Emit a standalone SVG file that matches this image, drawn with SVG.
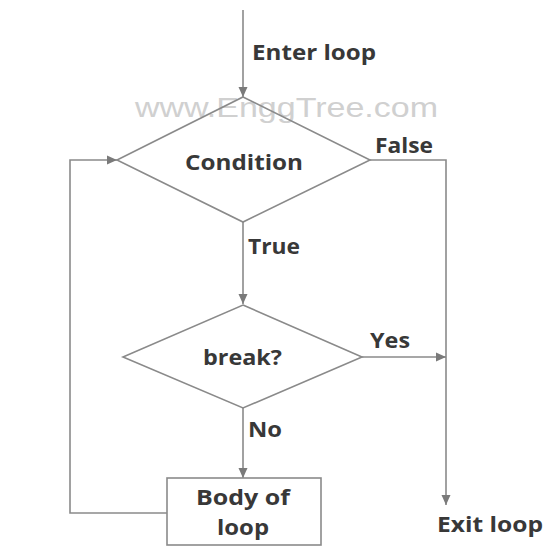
<svg xmlns="http://www.w3.org/2000/svg" width="548" height="554" viewBox="0 0 548 554">
<style>
.ln{fill:none;stroke:#8a8a8a;stroke-width:1.6}
.sh{fill:none;stroke:#8a8a8a;stroke-width:1.6}
.t{font-family:"Open Sans","Liberation Sans",sans-serif;font-weight:700;font-size:21px;fill:#383838}
.wm{font-family:"Liberation Sans",Arial,sans-serif;font-size:28px;fill:#d0d0d0}
</style>
<defs>
<marker id="ah" viewBox="0 0 10 10" refX="10" refY="5" markerWidth="10" markerHeight="10" markerUnits="userSpaceOnUse" orient="auto">
<path d="M0,0.5 L10,5 L0,9.5 Z" fill="#7a7a7a"/>
</marker>
</defs>
<rect width="548" height="554" fill="#fff"/>
<text class="wm" x="135" y="117" textLength="303" lengthAdjust="spacingAndGlyphs">www.EnggTree.com</text>
<g id="connectors">
<line class="ln" x1="243" y1="10" x2="243" y2="97" marker-end="url(#ah)"/>
<line class="ln" x1="243" y1="222" x2="243" y2="304" marker-end="url(#ah)"/>
<polyline class="ln" points="370,160 446,160 446,505" marker-end="url(#ah)"/>
<line class="ln" x1="362" y1="357" x2="446" y2="357" marker-end="url(#ah)"/>
<line class="ln" x1="243" y1="408" x2="243" y2="478" marker-end="url(#ah)"/>
<polyline class="ln" points="167,513 70,513 70,160 117,160" marker-end="url(#ah)"/>
</g>
<g id="enter-label"><text class="t" x="252" y="60" textLength="124" lengthAdjust="spacingAndGlyphs">Enter loop</text></g>
<g id="condition">
<polygon class="sh" points="243,97 370,160 243,222 117,160"/>
<text class="t" x="185" y="170" textLength="118" lengthAdjust="spacingAndGlyphs">Condition</text>
</g>
<g id="false-label"><text class="t" x="375" y="153" textLength="58" lengthAdjust="spacingAndGlyphs">False</text></g>
<g id="true-label"><text class="t" x="248" y="254" textLength="52" lengthAdjust="spacingAndGlyphs">True</text></g>
<g id="break">
<polygon class="sh" points="243,305 362,357 243,408 123,357"/>
<text class="t" x="203" y="365" textLength="79" lengthAdjust="spacingAndGlyphs">break?</text>
</g>
<g id="yes-label"><text class="t" x="370" y="348" textLength="40" lengthAdjust="spacingAndGlyphs">Yes</text></g>
<g id="no-label"><text class="t" x="248" y="437" textLength="34" lengthAdjust="spacingAndGlyphs">No</text></g>
<g id="body">
<rect class="sh" x="167" y="478" width="154" height="67"/>
<text class="t" x="196" y="505" textLength="94" lengthAdjust="spacingAndGlyphs">Body of</text>
<text class="t" x="217" y="535" textLength="52" lengthAdjust="spacingAndGlyphs">loop</text>
</g>
<g id="exit"><text class="t" x="437" y="532" textLength="106" lengthAdjust="spacingAndGlyphs">Exit loop</text></g>
</svg>
